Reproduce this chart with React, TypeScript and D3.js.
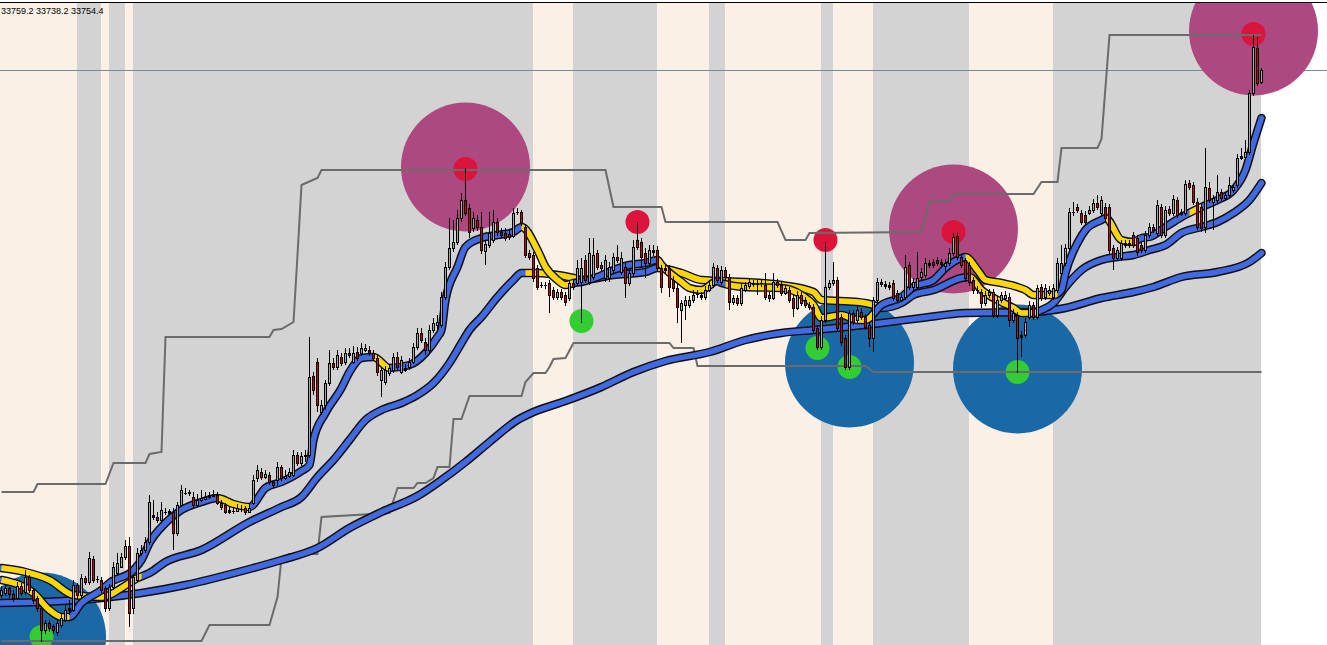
import React from "react";
import * as d3 from "d3";

const WIDTH = 1327;
const HEIGHT = 645;

// ---- candles (US30, M5) ----
const opens = [
33229,33231,33236,33230,33226,33238,33232,33247,33234,33226,
33216,33194,33201,33198,33192,33199,33204,33214,33214,33239,
33229,33246,33242,33265,33245,33244,33236,33216,33237,33251,
33257,33267,33278,33216,33244,33271,33274,33282,33309,33307,
33304,33312,33311,33312,33291,33319,33331,33331,33327,33319,
33324,33325,33327,33328,33329,33321,33319,33312,33313,33313,
33315,33316,33312,33321,33346,33352,33347,33349,33342,33344,
33357,33346,33348,33349,33369,33361,33368,33369,33448,33462,
33412,33419,33441,33461,33457,33467,33462,33471,33462,33472,
33471,33474,33474,33471,33466,33444,33442,33451,33454,33467,
33452,33456,33457,33462,33477,33491,33482,33474,33494,33499,
33499,33527,33557,33576,33582,33606,33624,33616,33596,33604,
33597,33573,33579,33584,33602,33592,33591,33590,33588,33611,
33612,33597,33571,33569,33556,33539,33539,33541,33534,33527,
33532,33529,33526,33541,33541,33542,33564,33542,33547,33571,
33559,33546,33546,33554,33567,33552,33557,33541,33551,33584,
33582,33571,33561,33574,33574,33556,33556,33556,33544,33536,
33514,33519,33519,33524,33530,33529,33527,33534,33539,33556,
33542,33554,33547,33522,33526,33521,33534,33538,33541,33541,
33541,33539,33529,33526,33542,33539,33531,33534,33526,33516,
33529,33524,33519,33517,33496,33477,33504,33537,33541,33544,
33507,33486,33457,33511,33504,33512,33507,33499,33486,33524,
33542,33540,33539,33541,33531,33524,33527,33559,33537,33537,
33547,33549,33561,33562,33564,33562,33558,33561,33571,33588,
33567,33564,33559,33544,33534,33532,33521,33529,33532,33509,
33524,33526,33527,33504,33509,33487,33489,33507,33519,33507,
33537,33527,33531,33527,33534,33551,33561,33576,33612,33617,
33611,33609,33611,33614,33621,33611,33617,33617,33576,33566,
33566,33579,33581,33589,33586,33579,33574,33589,33597,33591,
33617,33589,33615,33611,33624,33610,33611,33641,33639,33622,
33617,33597,33636,33622,33624,33632,33626,33629,33634,33639,
33666,33667,33672,33731,33776,33742,
];
const highs = [
33238,33239,33237,33234,33242,33241,33254,33249,33236,33228,
33218,33204,33204,33200,33204,33210,33219,33224,33244,33241,
33250,33248,33272,33268,33248,33247,33238,33240,33262,33271,
33271,33284,33287,33250,33276,33279,33287,33329,33324,33312,
33322,33316,33315,33316,33322,33339,33336,33334,33332,33330,
33334,33332,33332,33334,33332,33324,33321,33318,33317,33320,
33319,33318,33321,33349,33359,33356,33354,33352,33344,33362,
33359,33354,33356,33374,33372,33372,33374,33487,33452,33466,
33424,33444,33474,33466,33474,33471,33476,33476,33478,33477,
33481,33480,33478,33474,33469,33457,33458,33460,33471,33472,
33468,33460,33466,33481,33496,33496,33486,33499,33506,33509,
33532,33562,33606,33604,33614,33631,33656,33620,33612,33609,
33612,33584,33612,33614,33606,33596,33596,33594,33616,33616,
33614,33600,33574,33572,33559,33542,33542,33544,33537,33535,
33535,33532,33544,33544,33564,33566,33569,33586,33586,33574,
33562,33569,33562,33571,33579,33572,33562,33556,33584,33602,
33586,33576,33579,33579,33578,33559,33559,33559,33548,33540,
33524,33528,33528,33534,33534,33532,33538,33544,33561,33559,
33558,33557,33550,33529,33529,33540,33542,33545,33544,33544,
33544,33551,33532,33551,33545,33542,33539,33537,33529,33533,
33532,33527,33522,33520,33499,33508,33582,33544,33562,33547,
33510,33489,33514,33514,33518,33516,33510,33502,33527,33546,
33545,33543,33542,33544,33534,33530,33569,33562,33546,33572,
33556,33566,33564,33565,33567,33565,33565,33576,33591,33592,
33570,33566,33562,33547,33538,33535,33533,33535,33535,33528,
33532,33533,33531,33515,33512,33493,33506,33523,33522,33539,
33540,33540,33538,33540,33566,33579,33580,33616,33622,33620,
33614,33613,33618,33625,33629,33628,33621,33620,33579,33577,
33584,33584,33584,33592,33589,33582,33593,33601,33600,33624,
33620,33618,33618,33629,33627,33615,33644,33644,33642,33626,
33620,33676,33642,33629,33649,33635,33632,33647,33640,33670,
33676,33684,33734,33789,33787,33756,
];
const lows = [
33226,33228,33226,33222,33224,33228,33229,33231,33220,33212,
33182,33190,33192,33190,33188,33196,33202,33209,33212,33224,
33226,33239,33239,33241,33241,33231,33212,33213,33234,33249,
33256,33264,33197,33210,33242,33268,33271,33279,33304,33301,
33302,33309,33309,33274,33288,33317,33329,33328,33316,33317,
33322,33324,33325,33327,33319,33314,33310,33310,33310,33312,
33312,33309,33311,33319,33342,33344,33345,33339,33336,33338,
33343,33344,33346,33347,33358,33358,33362,33366,33429,33412,
33409,33414,33438,33454,33454,33458,33459,33466,33460,33463,
33468,33472,33468,33463,33448,33427,33439,33448,33451,33454,
33450,33452,33454,33460,33474,33481,33469,33471,33491,33494,
33496,33524,33554,33572,33579,33602,33608,33586,33592,33593,
33570,33559,33576,33581,33588,33586,33583,33584,33586,33609,
33598,33566,33564,33542,33534,33536,33535,33511,33524,33524,
33524,33518,33523,33534,33538,33501,33541,33539,33544,33554,
33552,33542,33542,33551,33561,33549,33526,33538,33548,33574,
33556,33546,33558,33568,33552,33531,33550,33527,33532,33501,
33481,33504,33516,33521,33526,33524,33524,33532,33536,33541,
33539,33544,33514,33519,33518,33518,33532,33535,33537,33529,
33537,33524,33522,33524,33536,33528,33529,33521,33507,33514,
33518,33516,33514,33491,33474,33474,33501,33534,33538,33492,
33478,33454,33454,33499,33501,33504,33494,33477,33472,33521,
33537,33535,33534,33523,33521,33522,33524,33534,33532,33534,
33544,33546,33556,33556,33558,33557,33552,33558,33568,33564,
33556,33542,33538,33530,33530,33516,33518,33526,33506,33506,
33521,33524,33497,33501,33451,33467,33486,33504,33504,33504,
33523,33524,33528,33524,33531,33548,33558,33573,33608,33611,
33599,33598,33609,33611,33614,33608,33603,33570,33554,33563,
33563,33576,33576,33576,33568,33571,33571,33586,33591,33588,
33586,33586,33608,33608,33606,33608,33608,33634,33619,33594,
33592,33591,33621,33594,33621,33623,33623,33626,33631,33636,
33664,33664,33669,33728,33738,33740,
];
const closes = [
33234,33236,33230,33226,33238,33231,33247,33234,33224,33216,
33194,33201,33196,33194,33201,33206,33214,33216,33239,33229,
33246,33242,33266,33244,33245,33234,33216,33237,33257,33261,
33267,33278,33211,33247,33271,33274,33282,33322,33307,33304,
33314,33312,33313,33291,33319,33334,33330,33332,33319,33324,
33326,33327,33329,33330,33321,33317,33312,33314,33312,33316,
33314,33312,33316,33344,33354,33347,33350,33342,33339,33357,
33346,33348,33352,33369,33361,33368,33369,33447,33434,33419,
33419,33441,33461,33457,33469,33461,33471,33469,33471,33466,
33476,33476,33471,33466,33452,33454,33454,33456,33467,33457,
33464,33454,33462,33477,33491,33484,33474,33494,33501,33502,
33527,33557,33576,33582,33606,33624,33611,33592,33606,33597,
33574,33580,33591,33602,33592,33589,33586,33587,33611,33612,
33601,33569,33567,33546,33537,33538,33538,33529,33527,33532,
33527,33522,33541,33537,33556,33556,33544,33571,33569,33557,
33556,33564,33557,33567,33564,33566,33541,33551,33577,33577,
33567,33561,33574,33572,33556,33537,33554,33537,33536,33517,
33521,33524,33524,33529,33529,33527,33534,33539,33557,33544,
33554,33547,33522,33526,33521,33536,33539,33542,33540,33540,
33541,33527,33526,33542,33539,33531,33536,33524,33516,33529,
33521,33519,33517,33494,33477,33504,33537,33541,33544,33496,
33482,33457,33511,33502,33514,33507,33497,33486,33524,33542,
33540,33538,33537,33526,33524,33527,33557,33537,33542,33546,
33552,33561,33559,33559,33561,33560,33561,33571,33587,33567,
33559,33546,33542,33534,33533,33521,33529,33532,33509,33524,
33529,33529,33504,33511,33486,33489,33502,33519,33507,33536,
33526,33536,33534,33536,33561,33561,33576,33612,33611,33614,
33602,33602,33614,33621,33617,33624,33606,33574,33566,33574,
33581,33581,33579,33579,33572,33574,33589,33597,33594,33619,
33589,33614,33611,33625,33609,33612,33640,33637,33622,33597,
33596,33637,33624,33626,33632,33626,33629,33639,33637,33666,
33668,33672,33731,33777,33741,33754,
];

// ---- session shading (bar index ranges) ----
const sessionStart = [19, 27, 33, 143, 177, 205, 218, 263];
const sessionEnd = [25, 31, 133, 164, 181, 208, 242, 315];

// ---- moving averages (bar index, price) ----
const fastBars = [0,8,12,15,17,20,25,27,33,35,37,41,45,50,54,58,62,66,70,75,77,78,81,85,87,90,93,97,102,106,109,110,111,114,116,120,124,128,130,134,136,139,141,143,145,149,153,157,161,164,165,170,172,175,179,180,186,195,200,203,205,210,214,216,220,225,228,233,236,240,241,244,246,250,254,256,258,263,265,266,269,271,275,276,280,283,285,287,291,295,300,304,308,311,313,315];
const fastValues = [33244,33231,33214,33207,33207,33221,33234,33241,33254,33264,33281,33301,33314,33322,33326,33320,33317,33336,33342,33353,33359,33384,33411,33436,33452,33466,33467,33456,33459,33471,33487,33494,33524,33557,33577,33586,33589,33592,33597,33574,33557,33544,33539,33541,33542,33547,33554,33559,33561,33564,33559,33542,33536,33534,33543,33541,33537,33536,33529,33519,33506,33509,33504,33504,33519,33527,33537,33544,33556,33566,33567,33554,33544,33541,33537,33534,33529,33529,33534,33551,33581,33594,33604,33606,33584,33582,33586,33587,33597,33607,33617,33624,33634,33654,33681,33706];
const fastFlatStart = [0, 54, 93, 130, 164, 181, 241, 276, 297];
const fastFlatEnd = [17, 62, 97, 143, 178, 218, 264, 284, 300];

const midBars = [0,6,12,18,25,27,30,34,37,41,50,62,70,75,79,83,87,91,95,100,104,108,112,115,117,120,124,128,130,133,143,145,153,161,164,170,175,186,195,203,205,214,218,220,225,228,233,240,242,245,250,253,255,258,260,263,266,270,275,279,283,287,291,295,300,304,308,312,315];
const midValues = [33256,33252,33244,33229,33227,33229,33236,33246,33251,33262,33274,33302,33317,33327,33347,33364,33384,33404,33414,33421,33429,33441,33461,33481,33494,33507,33527,33544,33551,33551,33546,33544,33549,33552,33556,33551,33544,33542,33539,33532,33524,33522,33519,33516,33521,33529,33534,33546,33547,33534,33522,33516,33511,33511,33514,33521,33537,33554,33564,33567,33569,33574,33579,33591,33597,33602,33611,33624,33641];
const midFlatStart = [0, 131, 164, 242];
const midFlatEnd = [35, 144, 220, 259];

const slowBars = [0,10,25,35,46,62,70,79,87,95,104,110,116,122,129,133,141,150,158,166,177,186,195,203,211,220,230,241,258,266,275,283,288,295,304,312,315];
const slowValues = [33221,33222,33226,33231,33239,33255,33264,33276,33296,33312,33328,33344,33362,33382,33404,33412,33423,33437,33452,33463,33472,33484,33491,33494,33497,33501,33506,33511,33512,33516,33526,33532,33537,33547,33552,33562,33571];

// ---- channel (bar index, price) ----
const upperBars = [0,8,9,26,28,36,37,40,41,67,68,70,73,74,75,79,80,151,153,165,166,194,196,201,202,230,232,237,238,258,260,264,265,274,275,277,315];
const upperValues = [33332,33332,33340,33340,33361,33361,33370,33372,33487,33487,33494,33495,33502,33569,33639,33646,33654,33654,33617,33617,33602,33602,33584,33584,33591,33592,33623,33623,33630,33630,33642,33642,33676,33676,33685,33789,33789];
const lowerBars = [0,50,52,67,69,70,72,79,80,97,99,103,104,106,108,109,112,113,115,117,130,131,133,136,137,138,141,143,167,168,173,174,216,218,315];
const lowerValues = [33183,33183,33199,33199,33227,33266,33270,33270,33307,33311,33336,33336,33341,33341,33346,33357,33357,33405,33405,33428,33428,33442,33451,33451,33457,33465,33466,33481,33481,33476,33476,33458,33458,33452,33452];

// ---- signal markers (bar index, price) ----
const peakZoneBars = [116, 238, 313];
const peakZoneValues = [33657, 33595, 33793];
const troughZoneBars = [10, 212, 254];
const troughZoneValues = [33187, 33461, 33455];
const highDotBars = [116, 159, 206, 238, 313];
const highDotValues = [33655, 33602, 33584, 33592, 33790];
const lowDotBars = [10, 145, 204, 212, 254];
const lowDotValues = [33187, 33503, 33476, 33457, 33452];

const headerValues = ["33759.2", "33738.2", "33754.4"];

type P = [number, number];
const zip = (a: number[], b: number[]): P[] => a.map((v, i) => [v, b[i]] as P);

export default function App() {
  const x = d3.scaleLinear().domain([0, 315]).range([1.5, 1261.5]);
  const y = d3.scaleLinear().domain([33179, 33824]).range([645, 0]);
  const plotRight = x(315) - 0.5;

  const smooth = d3
    .line<P>()
    .x((d) => x(d[0]))
    .y((d) => y(d[1]))
    .curve(d3.curveMonotoneX);
  const straight = d3
    .line<P>()
    .x((d) => x(d[0]))
    .y((d) => y(d[1]));

  const fastPath = smooth(zip(fastBars, fastValues)) || "";
  const midPath = smooth(zip(midBars, midValues)) || "";
  const slowPath = smooth(zip(slowBars, slowValues)) || "";
  const upperPath = straight(zip(upperBars, upperValues)) || "";
  const lowerPath = straight(zip(lowerBars, lowerValues)) || "";

  const BLUE = "#4169e1";
  const YELLOW = "#ffd700";

  const clipRect = (a: number, b: number) => {
    const x0 = a === 0 ? -20 : x(a);
    return { x: x0, width: x(b) - x0 };
  };

  const lastClose = closes[closes.length - 1];
  const priceLineY = Math.round(y(lastClose)) + 0.5;

  const maLine = (path: string, flatS: number[], id: string) => (
    <g>
      <path d={path} fill="none" stroke="#111" strokeWidth={8.5} strokeLinejoin="round" strokeLinecap="round" />
      <path d={path} fill="none" stroke={BLUE} strokeWidth={5.5} strokeLinejoin="round" strokeLinecap="round" />
      {flatS.map((s, i) => (
        <path
          key={i}
          d={path}
          fill="none"
          stroke={YELLOW}
          strokeWidth={5.5}
          strokeLinejoin="round"
          clipPath={`url(#${id}${i})`}
        />
      ))}
    </g>
  );

  return (
    <svg
      width={WIDTH}
      height={HEIGHT}
      style={{ position: "fixed", left: 0, top: 0, display: "block", background: "#ffffff" }}
    >
      <defs>
        {fastFlatStart.map((s, i) => {
          const r = clipRect(s, fastFlatEnd[i]);
          return (
            <clipPath id={`fastclip${i}`} key={`f${i}`}>
              <rect x={r.x} y={0} width={r.width} height={HEIGHT} />
            </clipPath>
          );
        })}
        {midFlatStart.map((s, i) => {
          const r = clipRect(s, midFlatEnd[i]);
          return (
            <clipPath id={`midclip${i}`} key={`m${i}`}>
              <rect x={r.x} y={0} width={r.width} height={HEIGHT} />
            </clipPath>
          );
        })}
        <clipPath id="plotclip">
          <rect x={0} y={3} width={WIDTH} height={HEIGHT - 3} />
        </clipPath>
      </defs>

      {/* background + sessions */}
      <rect x={0} y={3} width={plotRight} height={HEIGHT - 3} fill="#faf0e6" />
      {sessionStart.map((s, i) => (
        <rect
          key={i}
          x={x(s) - 0.5}
          y={3}
          width={x(sessionEnd[i]) - x(s)}
          height={HEIGHT - 3}
          fill="#d3d3d3"
        />
      ))}
      <rect x={0} y={2} width={WIDTH} height={1} fill="#000" />

      <g clipPath="url(#plotclip)">
        {/* current price line */}
        <line x1={0} x2={WIDTH} y1={priceLineY} y2={priceLineY} stroke="#778899" strokeWidth={1} />

        {/* zones */}
        {peakZoneBars.map((b, i) => (
          <circle key={`pz${i}`} cx={x(b)} cy={y(peakZoneValues[i])} r={64.5} fill="#ad4880" />
        ))}
        {troughZoneBars.map((b, i) => (
          <circle key={`tz${i}`} cx={x(b)} cy={y(troughZoneValues[i])} r={64.5} fill="#1a68a6" />
        ))}
        {highDotBars.map((b, i) => (
          <circle key={`hd${i}`} cx={x(b)} cy={y(highDotValues[i])} r={12} fill="#dc143c" />
        ))}
        {lowDotBars.map((b, i) => (
          <circle key={`ld${i}`} cx={x(b)} cy={y(lowDotValues[i])} r={12} fill="#32cd32" />
        ))}

        {/* channel */}
        <path d={upperPath} fill="none" stroke="#6b6b6b" strokeWidth={2} />
        <path d={lowerPath} fill="none" stroke="#6b6b6b" strokeWidth={2} />

        {/* moving averages */}
        <path d={slowPath} fill="none" stroke="#111" strokeWidth={8.5} strokeLinecap="round" />
        <path d={slowPath} fill="none" stroke={BLUE} strokeWidth={5.5} strokeLinecap="round" />
        {maLine(midPath, midFlatStart, "midclip")}
        {maLine(fastPath, fastFlatStart, "fastclip")}

        {/* candles */}
        <g shapeRendering="crispEdges">
          {closes.map((c, i) => {
            const xc = x(i);
            const hy = y(highs[i]);
            const ly = y(lows[i]);
            return <rect key={`w${i}`} x={xc - 0.5} y={hy} width={1} height={Math.max(1, ly - hy)} fill="#000" />;
          })}
          {closes.map((c, i) => {
            const o = opens[i];
            const xc = x(i);
            const top = y(Math.max(o, c));
            const bot = y(Math.min(o, c));
            const h = Math.max(1, bot - top);
            const up = c >= o;
            return (
              <g key={`b${i}`}>
                <rect x={xc - 1.5} y={top} width={3} height={h + (h > 1 ? 1 : 0)} fill="#000" />
                {h > 2 && (
                  <rect x={xc - 0.5} y={top + 1} width={1} height={h - 1} fill={up ? "#a8a8a8" : "#d40000"} />
                )}
              </g>
            );
          })}
        </g>
      </g>

      <text
        x={1}
        y={13.5}
        fontFamily="'Liberation Sans', Arial, sans-serif"
        fontSize={9}
        fill="#000"
      >
        {headerValues.join(" ")}
      </text>
    </svg>
  );
}
